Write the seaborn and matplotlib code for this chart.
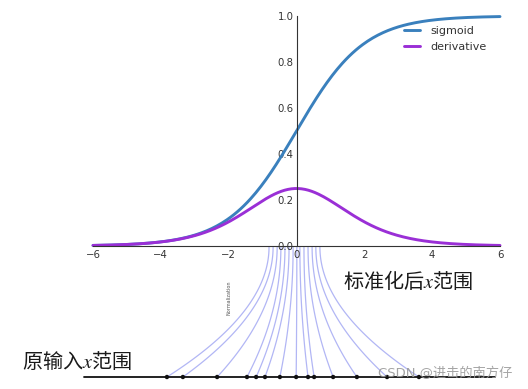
import numpy as np
import pandas as pd
import matplotlib
matplotlib.use("Agg")
import matplotlib.pyplot as plt
import seaborn as sns

# ---- data ----
x_values = np.linspace(-6, 6, 241)
sigmoid_values = 1.0 / (1.0 + np.exp(-x_values))
derivative_values = sigmoid_values * (1.0 - sigmoid_values)
series_names = ["sigmoid", "derivative"]
x_ticks = [-6, -4, -2, 0, 2, 4, 6]
y_ticks = [0.0, 0.2, 0.4, 0.6, 0.8, 1.0]

# original inputs (bottom dots) and their normalized positions (top ends)
raw_inputs = [-3.82, -3.35, -2.34, -1.46, -1.19, -0.93, -0.49, -0.01,
              0.34, 0.52, 1.08, 1.78, 2.67, 3.61]
normalized_inputs = [-0.81, -0.69, -0.57, -0.46, -0.34, -0.22, -0.10, 0.01,
                     0.10, 0.22, 0.34, 0.46, 0.57, 0.69]
raw_axis_range = [-6.26, 5.86]

label_top = "标准化后$x$范围"
label_bottom = "原输入$x$范围"
label_norm = "Normalization"
watermark = "CSDN @进击的南方仔"

# ---- style ----
sns.set_style("white")
plt.rcParams["font.family"] = ["DejaVu Sans", "Noto Sans CJK SC"]
plt.rcParams["mathtext.fontset"] = "stix"

W, H = 528, 389
fig = plt.figure(figsize=(W / 100, H / 100), dpi=100)
fig.patch.set_facecolor("white")

# top axes: x -6..6 -> px 93..500 ; y 0..1 -> px 246..16
ax = fig.add_axes([93 / W, (H - 246) / H, 407 / W, 230 / H])
df = pd.DataFrame({
    "x": np.concatenate([x_values, x_values]),
    "y": np.concatenate([sigmoid_values, derivative_values]),
    "series": [series_names[0]] * len(x_values) + [series_names[1]] * len(x_values),
})
sns.lineplot(data=df, x="x", y="y", hue="series", ax=ax,
             palette={"sigmoid": "#3a80bd", "derivative": "#9a2fd6"},
             linewidth=2.1, clip_on=False)
ax.set_xlim(-6, 6)
ax.set_ylim(0, 1)
ax.set_xlabel("")
ax.set_ylabel("")
ax.set_facecolor("none")
ax.spines["left"].set_position(("data", 0))
ax.spines["bottom"].set_position(("data", 0))
ax.spines["top"].set_visible(False)
ax.spines["right"].set_visible(False)
for s in ("left", "bottom"):
    ax.spines[s].set_color("#333333")
    ax.spines[s].set_linewidth(0.8)
ax.set_xticks(x_ticks)
ax.set_yticks(y_ticks)
ax.set_xticklabels([f"\u2212{abs(t)}" if t < 0 else f"{t}" for t in x_ticks])
ax.set_yticklabels([f"{t:.1f}" for t in y_ticks])
ax.tick_params(axis="both", direction="in", length=3, width=0.6,
               labelsize=7.3, colors="#333333", pad=3)
ax.tick_params(axis="y", pad=2)
leg = ax.legend(loc="upper left", bbox_to_anchor=(0.745, 0.99), frameon=False,
                fontsize=8, handlelength=1.4, handletextpad=1.0,
                labelspacing=0.55, borderpad=0.2)
for t in leg.get_texts():
    t.set_color("#333333")

# bottom overlay axes: same x scale, y in pixels from figure bottom
axb = fig.add_axes([93 / W, 0, 407 / W, (H - 246) / H])
axb.set_xlim(-6, 6)
axb.set_ylim(0, H - 246)
axb.axis("off")
axb.set_zorder(-1)

y_bot, y_top = H - 377, H - 247
s = np.linspace(0, 1, 60)
for xb, xt in zip(raw_inputs, normalized_inputs):
    xs = xt + (xb - xt) * (1 - s) ** 2
    ys = y_bot + (y_top - y_bot) * s
    axb.plot(xs, ys, color="#7f86ee", alpha=0.6, linewidth=0.9, clip_on=False)

axb.plot(raw_axis_range, [y_bot, y_bot], color="#111111", linewidth=1.3,
         clip_on=False)
sns.scatterplot(x=raw_inputs, y=[y_bot] * len(raw_inputs), ax=axb,
                color="#111111", s=10, edgecolor="none", zorder=5, clip_on=False)

# texts
fig.text(343 / W, (H - 281) / H, label_top, fontsize=14.5,
         family=["Noto Sans CJK SC"], va="center", ha="left", color="#1a1a1a")
fig.text(22 / W, (H - 362) / H, label_bottom, fontsize=14.5,
         family=["Noto Sans CJK SC"], va="center", ha="left", color="#1a1a1a")
fig.text(229 / W, (H - 298) / H, label_norm, fontsize=3.5, rotation=90,
         va="center", ha="center", color="#555555")
fig.text(378 / W, (H - 373) / H, watermark, fontsize=9.5,
         family=["DejaVu Sans", "Noto Sans CJK SC"], va="center", ha="left",
         color="#9a9a9a", alpha=0.9)

fig.savefig("out.png", dpi=100, facecolor="white")
